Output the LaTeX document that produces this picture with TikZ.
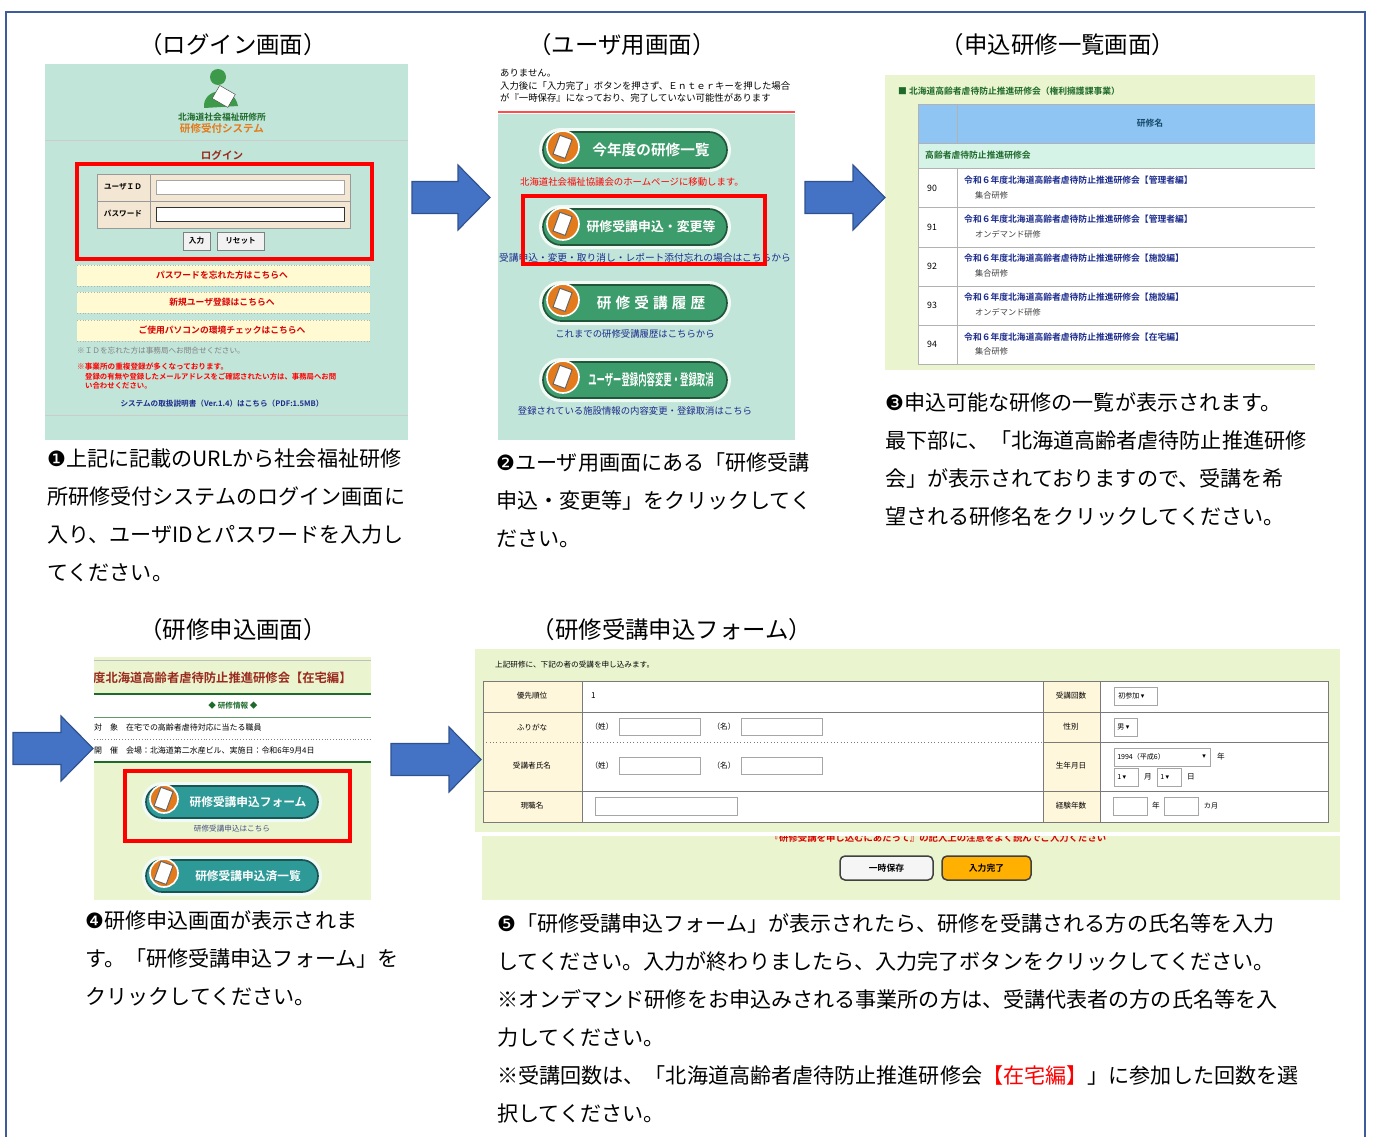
\documentclass[tikz,border=0pt]{standalone}
\usepackage{fontspec}
\setmainfont{Noto Sans CJK JP}[BoldFont={Noto Sans CJK JP Bold}]
\newfontfamily\dejavu{DejaVu Sans}
\definecolor{framecol}{HTML}{3E5C9A}
\definecolor{mintbg}{HTML}{C2E5D9}
\definecolor{listbg}{HTML}{EAF5D0}
\definecolor{arrowblue}{HTML}{4472C4}
\definecolor{arrowedge}{HTML}{2F528F}
\definecolor{boxred}{HTML}{FF0000}
\definecolor{headblue}{HTML}{8EC5F2}
\definecolor{rowmint}{HTML}{D6F3E8}
\definecolor{beige}{HTML}{F3E6D3}
\definecolor{baryellow}{HTML}{FFFAD2}
\definecolor{labelcream}{HTML}{FFF7DC}
\definecolor{gridgray}{HTML}{7A7A7A}
\definecolor{linkblue}{HTML}{1C2C8C}
\definecolor{listgreen}{HTML}{1E6A2A}
\definecolor{logogreen}{HTML}{3C9A4A}
\definecolor{brownred}{HTML}{9A2A1E}
\definecolor{pillgreen}{HTML}{3D9C6B}
\definecolor{pillteal}{HTML}{2E9A98}
\definecolor{pillhalo}{HTML}{F2FAF6}
\definecolor{pillorange}{HTML}{E37B1C}
\definecolor{btnorange}{HTML}{FFB000}
\newcommand{\num}[1]{{\dejavu #1}}
\newcommand{\pillbtn}[6]{%
  \begin{scope}[shift={#2}]
    \fill[pillhalo] (-#3,-#4-4) -- (#3,-#4-4) arc (-90:90:#4+4) -- (-#3,#4+4) arc (90:270:#4+4) -- cycle;
    \filldraw[fill=#5, draw=#5!55!black, line width=0.5mm] (-#3,-#4) -- (#3,-#4) arc (-90:90:#4) -- (-#3,#4) arc (90:270:#4) -- cycle;
    \filldraw[fill=pillorange, draw=white, line width=0.5mm] (-#3+2,-3) circle (#4-2);
    \filldraw[fill=white, draw=black!60, line width=0.3mm, rotate around={-20:(-#3+2,-3)}] (-#3-5,-13) rectangle (-#3+8,7);
    \node[text=white, font=\bfseries\fontsize{11}{12}\selectfont, inner sep=0] (#1) at (16,0) {#6};
  \end{scope}}

\begin{document}
\begin{tikzpicture}[x=0.3mm, y=-0.3mm,
    ttl/.style={font=\fontsize{20}{24}\selectfont, inner sep=0},
    captext/.style={anchor=base west, font=\fontsize{18}{22}\selectfont, inner sep=0},
    shottext/.style={font=\fontsize{7}{8}\selectfont, inner sep=0},
    boldtext/.style={font=\bfseries\fontsize{7.5}{8}\selectfont, inner sep=0},
    redbox/.style={draw=boxred, line width=1.4mm},
    bigarrow/.style={fill=arrowblue, draw=arrowedge, line width=0.35mm},
    field/.style={draw=gray!70, fill=white, line width=0.25mm},
    tableline/.style={draw=gridgray, line width=0.3mm}]
\useasboundingbox (0,0) rectangle (1373,1136);
\draw[framecol, line width=0.7mm] (6,1150) -- (6,12) -- (1365,12) -- (1365,1150);

\node[ttl] (tLogin) at (233,45) {（ログイン画面）};
\node[ttl] (tUser) at (622,45) {（ユーザ用画面）};
\node[ttl] (tList) at (1058,45) {（申込研修一覧画面）};
\node[ttl] (tApply) at (233,630) {（研修申込画面）};
\node[ttl] (tForm) at (672,630) {（研修受講申込フォーム）};

% login screen
\fill[mintbg] (45,64) rectangle (408,440);
\fill[logogreen] (218,77) circle (8);
\fill[logogreen] (204,108) .. controls (202,88) and (234,84) .. (238,106) -- cycle;
\filldraw[fill=white, draw=black!70, rotate around={-30:(224,96)}] (215,89) rectangle (233,104);
\node[boldtext, text=listgreen] (lgHouse) at (222,117) {北海道社会福祉研修所};
\node[boldtext, text=pillorange, font=\bfseries\fontsize{9}{10}\selectfont] (lgSys) at (222,129) {研修受付システム};
\draw[gray!40] (45,140) -- (408,140);
\node[boldtext, text=brownred, font=\bfseries\fontsize{9}{10}\selectfont] (lgTitle) at (222,155) {ログイン};
\filldraw[fill=beige, draw=gray!80] (97,174) rectangle (350,228);
\draw[gray!80] (97,201) -- (350,201) (150,174) -- (150,228);
\node[boldtext, font=\bfseries\fontsize{6.5}{7}\selectfont] (lgUid) at (123,187) {ユーザＩＤ};
\node[boldtext, font=\bfseries\fontsize{6.5}{7}\selectfont] (lgPw) at (123,214) {パスワード};
\draw[field] (156,180) rectangle (344,194);
\draw[field, draw=black!80] (156,207) rectangle (344,221);
\filldraw[fill=gray!10, draw=gray] (183,232) rectangle (210,250);
\node[boldtext, font=\bfseries\fontsize{6.5}{7}\selectfont] (lgIn) at (196.5,241) {入力};
\filldraw[fill=gray!10, draw=gray] (217,232) rectangle (264,250);
\node[boldtext, font=\bfseries\fontsize{6.5}{7}\selectfont] (lgReset) at (240.5,241) {リセット};
\draw[redbox] (77,164) rectangle (372,259);
\foreach \y/\t [count=\i] in {265/パスワードを忘れた方はこちらへ, 292/新規ユーザ登録はこちらへ, 320/ご使用パソコンの環境チェックはこちらへ} {
  \fill[baryellow] (77,\y) rectangle (370,\y+21);
  \draw[gray!60, dotted] (77,\y) -- (370,\y) (77,\y+21) -- (370,\y+21);
  \node[boldtext, text=boxred!85!black] (lgBar-\i) at (222,\y+10.5) {\t};
}
\node[shottext, anchor=west, text=gray, font=\fontsize{6.5}{7}\selectfont] (lgNote) at (77,351) {※ＩＤを忘れた方は事務局へお問合せください。};
\node[shottext, anchor=west, text=boxred, font=\bfseries\fontsize{6.5}{7}\selectfont] (lgWarn1) at (77,367) {※事業所の重複登録が多くなっております。};
\node[shottext, anchor=west, text=boxred, font=\bfseries\fontsize{6.3}{7}\selectfont] (lgWarn2) at (85,377) {登録の有無や登録したメールアドレスをご確認されたい方は、事務局へお問};
\node[shottext, anchor=west, text=boxred, font=\bfseries\fontsize{6.3}{7}\selectfont] (lgWarn3) at (85,386) {い合わせください。};
\node[shottext, text=linkblue, font=\bfseries\fontsize{6.5}{7}\selectfont] (lgManual) at (222,404) {システムの取扱説明書（Ver.1.4）はこちら（PDF:1.5MB）};
\draw[gray!40] (45,415) -- (408,415);

% user screen
\begin{scope}
\clip (498,64) rectangle (795,440);
\fill[white] (498,64) rectangle (795,112);
\node[shottext, anchor=west, font=\fontsize{8}{9}\selectfont] (usTop1) at (500,73) {ありません。};
\node[shottext, anchor=west, font=\fontsize{8}{9}\selectfont] (usTop2) at (500,86) {入力後に「入力完了」ボタンを押さず、Ｅｎｔｅｒキーを押した場合};
\node[shottext, anchor=west, font=\fontsize{8}{9}\selectfont] (usTop3) at (500,98) {が『一時保存』になっており、完了していない可能性があります};
\draw[boxred!70, line width=0.4mm] (498,112) -- (795,112);
\fill[mintbg] (498,114) rectangle (795,440);
\pillbtn{usYear}{(635,150)}{74}{18}{pillgreen}{\fontsize{12.5}{14}\selectfont 今年度の研修一覧}
\node[shottext, text=boxred, font=\fontsize{8}{9}\selectfont] (usYearTxt) at (632,182) {北海道社会福祉協議会のホームページに移動します。};
\pillbtn{usApply}{(635,227)}{74}{18}{pillgreen}{\fontsize{11}{12}\selectfont 研修受講申込・変更等}
\node[shottext, text=linkblue, font=\fontsize{8.3}{9}\selectfont] (usApplyTxt) at (645,258) {受講申込・変更・取り消し・レポート添付忘れの場合はこちらから};
\pillbtn{usHist}{(635,303)}{74}{18}{pillgreen}{\fontsize{12.5}{14}\selectfont 研\kern3.5pt修\kern3.5pt受\kern3.5pt講\kern3.5pt履\kern3.5pt歴}
\node[shottext, text=linkblue, font=\fontsize{8}{9}\selectfont] (usHistTxt) at (635,334) {これまでの研修受講履歴はこちらから};
\pillbtn{usUser}{(635,380)}{74}{18}{pillgreen}{\scalebox{0.55}[1]{\fontsize{13}{14}\selectfont ユーザー登録内容変更・登録取消}}
\node[shottext, text=linkblue, font=\fontsize{8}{9}\selectfont] (usUserTxt) at (635,411) {登録されている施設情報の内容変更・登録取消はこちら};
\end{scope}
\draw[redbox] (523,196) rectangle (765,264);

% list screen
\fill[listbg] (885,75) rectangle (1315,370);
\node[boldtext, anchor=west, text=listgreen] (lsHead) at (898,91) {■ 北海道高齢者虐待防止推進研修会（権利擁護課事業）};
\fill[headblue] (918,104) rectangle (1315,143);
\fill[rowmint] (918,143) rectangle (1315,168);
\fill[white] (918,168) rectangle (1315,364);
\draw[tableline, draw=gray!60] (1315,104) -- (918,104) -- (918,364) -- (1315,364);
\draw[tableline, draw=gray!60] (957,104) -- (957,143) (957,168) -- (957,364);
\foreach \y in {143,168,207,247,286,325}
  \draw[tableline, draw=gray!60] (918,\y) -- (1315,\y);
\node[boldtext, text=listgreen!70!blue] (lsCol) at (1150,123) {研修名};
\node[boldtext, anchor=west, text=listgreen] (lsGroup) at (925,155.5) {高齢者虐待防止推進研修会};
\foreach \n/\ed/\kind [count=\i] in {90/管理者編/集合研修, 91/管理者編/オンデマンド研修, 92/施設編/集合研修, 93/施設編/オンデマンド研修, 94/在宅編/集合研修} {
  \node[shottext, font=\fontsize{7.5}{8}\selectfont] (lsNo-\i) at (932,{188+39.2*(\i-1)}) {\n};
  \node[boldtext, anchor=west, text=linkblue] (lsName-\i) at (964,{180+39.2*(\i-1)}) {令和６年度北海道高齢者虐待防止推進研修会【\ed】};
  \node[shottext, anchor=west, text=black!75] (lsKind-\i) at (975,{195+39.2*(\i-1)}) {\kind};
}

% apply screen
\begin{scope}
\clip (94,657) rectangle (371,900);
\fill[listbg] (94,657) rectangle (371,900);
\draw[gray!50] (94,660) -- (371,660);
\node[shottext, anchor=west, text=brownred, font=\bfseries\fontsize{10.5}{11}\selectfont] (apTitle) at (93,678) {度北海道高齢者虐待防止推進研修会【在宅編】};
\fill[white] (94,694) rectangle (371,762);
\draw[listgreen, line width=0.4mm] (94,694) -- (371,694) (94,762) -- (371,762);
\draw[listgreen!70, line width=0.3mm] (94,717) -- (371,717);
\draw[gray, dotted] (94,739) -- (371,739);
\node[boldtext, text=listgreen, font=\bfseries\fontsize{6.5}{7}\selectfont] (apInfo) at (233,706) {◆ 研修情報 ◆};
\node[shottext, anchor=west, font=\fontsize{6.8}{7}\selectfont] (apTarget) at (94,727) {対　象　在宅での高齢者虐待対応に当たる職員};
\node[shottext, anchor=west, font=\fontsize{6.8}{7}\selectfont] (apHeld) at (94,750) {開　催　会場：北海道第二水産ビル、実施日：令和6年9月4日};
\pillbtn{apForm}{(232,802)}{70}{16}{pillteal}{\fontsize{10}{11}\selectfont 研修受講申込フォーム}
\node[shottext, text=linkblue!60!gray, font=\fontsize{6.5}{7}\selectfont] (apFormTxt) at (232,829) {研修受講申込はこちら};
\pillbtn{apDone}{(232,876)}{70}{16}{pillteal}{\fontsize{10}{11}\selectfont 研修受講申込済一覧}
\end{scope}
\draw[redbox] (125,771) rectangle (350,841);

% form screen
\fill[listbg] (475,649) rectangle (1340,832);
\node[shottext, anchor=west, font=\fontsize{6.5}{7}\selectfont] (fmIntro) at (495,665) {上記研修に、下記の者の受講を申し込みます。};
\fill[white] (483,681) rectangle (1328,822);
\fill[labelcream] (483,681) rectangle (582,822);
\fill[labelcream] (1043,681) rectangle (1100,822);
\draw[tableline] (483,681) rectangle (1328,822);
\draw[tableline] (582,681) -- (582,822) (1043,681) -- (1043,822) (1100,681) -- (1100,822);
\draw[tableline] (483,712) -- (1328,712) (483,791) -- (1328,791) (1043,742) -- (1328,742);
\draw[gridgray, dotted, line width=0.3mm] (483,742) -- (1043,742);
\foreach \t/\y [count=\i] in {優先順位/696, ふりがな/727, 受講者氏名/766, 現職名/806}
  \node[shottext, font=\fontsize{6.5}{7}\selectfont] (fmL-\i) at (532,\y) {\t};
\foreach \t/\y [count=\i] in {受講回数/696, 性別/727, 生年月日/766, 経験年数/806}
  \node[shottext, font=\fontsize{6.5}{7}\selectfont] (fmR-\i) at (1071,\y) {\t};
\node[shottext, anchor=west] (fmPrio) at (591,696) {1};
\foreach \y [count=\i] in {727,766} {
  \node[shottext, font=\fontsize{6.5}{7}\selectfont] (fmSei-\i) at (602,\y) {（姓）};
  \draw[field] (619,\y-8.5) rectangle (700,\y+8.5);
  \node[shottext, font=\fontsize{6.5}{7}\selectfont] (fmMei-\i) at (724,\y) {（名）};
  \draw[field] (741,\y-8.5) rectangle (822,\y+8.5);
}
\draw[field] (595,797) rectangle (737,815);
\draw[field] (1114,687) rectangle (1157,705);
\node[shottext, anchor=west, font=\fontsize{6}{7}\selectfont] (fmTimes) at (1118,696) {初参加 \num{▾}};
\draw[field] (1114,718) rectangle (1137,736);
\node[shottext, anchor=west, font=\fontsize{6}{7}\selectfont] (fmSex) at (1117,727) {男 \num{▾}};
\draw[field] (1114,748) rectangle (1210,766);
\node[shottext, anchor=west, font=\fontsize{6}{7}\selectfont] (fmYear) at (1117,757) {1994（平成6）};
\node[shottext, font=\fontsize{6}{7}\selectfont] (fmYearArr) at (1204,757) {\num{▾}};
\node[shottext, font=\fontsize{6.5}{7}\selectfont] (fmNen) at (1221,757) {年};
\draw[field] (1114,768) rectangle (1138,786);
\node[shottext, anchor=west, font=\fontsize{6}{7}\selectfont] (fmMonth) at (1117,777) {1 \num{▾}};
\node[shottext, font=\fontsize{6.5}{7}\selectfont] (fmGatsu) at (1148,777) {月};
\draw[field] (1157,768) rectangle (1181,786);
\node[shottext, anchor=west, font=\fontsize{6}{7}\selectfont] (fmDay) at (1160,777) {1 \num{▾}};
\node[shottext, font=\fontsize{6.5}{7}\selectfont] (fmNichi) at (1191,777) {日};
\draw[field] (1113,797) rectangle (1147,815);
\node[shottext, font=\fontsize{6.5}{7}\selectfont] (fmExpY) at (1156,806) {年};
\draw[field] (1164,797) rectangle (1198,815);
\node[shottext, font=\fontsize{6}{7}\selectfont] (fmExpM) at (1211,806) {カ月};
\begin{scope}
\clip (482,836) rectangle (1340,900);
\fill[listbg] (482,836) rectangle (1340,900);
\node[boldtext, text=boxred!85!black, font=\bfseries\fontsize{8}{9}\selectfont] (fmWarn) at (938,838) {『研修受講を申し込むにあたって』の記入上の注意をよく読んでご入力ください};
\end{scope}
\filldraw[fill=gray!8, draw=black!75, line width=0.45mm, rounded corners=1.5mm] (840,856) rectangle (933,880);
\node[boldtext] (fmSave) at (886.5,868) {一時保存};
\filldraw[fill=btnorange, draw=black!75, line width=0.45mm, rounded corners=1.5mm] (942,856) rectangle (1031,880);
\node[boldtext] (fmDoneBtn) at (986.5,868) {入力完了};

% arrows
\foreach \ax/\ay/\len in {412/165/78, 805/165/80, 13/716/80, 391/727/90}
  \draw[bigarrow, shift={(\ax,\ay)}] (0,16.5) -- (\len-32,16.5) -- (\len-32,0) -- (\len,32.5) -- (\len-32,65) -- (\len-32,48.5) -- (0,48.5) -- cycle;

% captions
\foreach \t [count=\i] in {\num{❶}上記に記載のURLから社会福祉研修, 所研修受付システムのログイン画面に, 入り、ユーザIDとパスワードを入力し, てください。}
  \node[captext] (capA-\i) at (47,{466+38.3*(\i-1)}) {\t};
\foreach \t [count=\i] in {\num{❷}ユーザ用画面にある「研修受講, 申込・変更等」をクリックしてく, ださい。}
  \node[captext] (capB-\i) at (496,{470+38*(\i-1)}) {\t};
\foreach \t [count=\i] in {\num{❸}申込可能な研修の一覧が表示されます。, 最下部に、「北海道高齢者虐待防止推進研修, 会」が表示されておりますので、受講を希, 望される研修名をクリックしてください。}
  \node[captext] (capC-\i) at (885,{410+38*(\i-1)}) {\t};
\foreach \t [count=\i] in {\num{❹}研修申込画面が表示されま, す。「研修受講申込フォーム」を, クリックしてください。}
  \node[captext] (capD-\i) at (85,{928+38*(\i-1)}) {\t};
\foreach \t [count=\i] in {\num{❺}「研修受講申込フォーム」が表示されたら、研修を受講される方の氏名等を入力, してください。入力が終わりましたら、入力完了ボタンをクリックしてください。, ※オンデマンド研修をお申込みされる事業所の方は、受講代表者の方の氏名等を入, 力してください。, ※受講回数は、「北海道高齢者虐待防止推進研修会{\color{boxred}【在宅編】}」に参加した回数を選, 択してください。}
  \node[captext] (capE-\i) at (497,{931+38*(\i-1)}) {\t};
\end{tikzpicture}
\end{document}
